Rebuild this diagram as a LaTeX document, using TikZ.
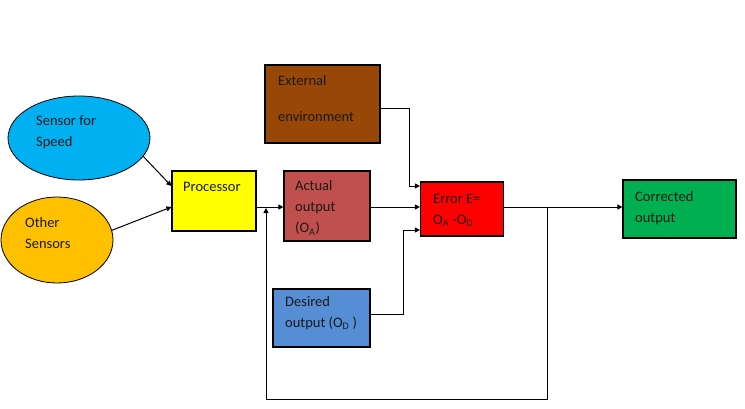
\documentclass[tikz,border=0pt]{standalone}
\usepackage{fontspec}
\setmainfont{Carlito}
\usetikzlibrary{arrows.meta,shapes.geometric}
\definecolor{cspeed}{HTML}{00B0F0}
\definecolor{cother}{HTML}{FFC000}
\definecolor{cproc}{HTML}{FFFF00}
\definecolor{cact}{HTML}{C0504D}
\definecolor{cerr}{HTML}{FF0000}
\definecolor{cext}{HTML}{974806}
\definecolor{cdes}{HTML}{558ED5}
\definecolor{ccor}{HTML}{00B050}
\definecolor{ctext}{HTML}{1A1A1A}
\begin{document}
\begin{tikzpicture}[x=1pt,y=-1pt,
  box/.style={draw=black, line width=1.2pt, rectangle, inner sep=0pt},
  oval/.style={draw=black, line width=0.8pt, ellipse, inner sep=0pt},
  txt/.style={anchor=west, inner sep=0pt, align=left, text=ctext, font=\fontsize{14.5}{21}\selectfont},
  conn/.style={draw=black, line width=1pt},
  arr/.style={conn, -{Triangle[length=5pt,width=5pt]}}]
\useasboundingbox (0,0) rectangle (745,408);
% shapes
\node[oval, fill=cspeed, minimum width=142pt, minimum height=84pt] (speed) at (79,138) {};
\node[oval, fill=cother, minimum width=112pt, minimum height=86pt] (other) at (57,240) {};
\node[box, fill=cproc, minimum width=84pt, minimum height=60pt] (proc) at (214,201) {};
\node[box, fill=cact, minimum width=86pt, minimum height=70pt] (act) at (327,206) {};
\node[box, fill=cerr, minimum width=83pt, minimum height=54pt] (err) at (462,209) {};
\node[box, fill=cext, minimum width=115pt, minimum height=78pt] (ext) at (322.5,104) {};
\node[box, fill=cdes, minimum width=97pt, minimum height=58pt] (des) at (321.5,318) {};
\node[box, fill=ccor, minimum width=113pt, minimum height=58pt] (cor) at (679.5,209) {};
% texts
\node[txt] (tspeed) at (36,132) {Sensor for\\Speed};
\node[txt] (tother) at (25,233) {Other\\Sensors};
\node[txt] (tproc) at (183,187) {Processor};
\node[txt] (tact) at (295,208) {Actual\\output\\(O\textsubscript{A})};
\node[txt] (terr) at (433,210) {Error E=\\O\textsubscript{A} -O\textsubscript{D}};
\node[txt] (text) at (278,99) {External\\[15pt]environment};
\node[txt] (tdes) at (285,313) {Desired\\output (O\textsubscript{D} )};
\node[txt] (tcor) at (635,208) {Corrected\\output};
% coordinates
\coordinate (mainy) at (0,207);
\coordinate (fbtop) at (547,207);
\coordinate (fbcorner) at (547,399);
\coordinate (fbleft) at (266,399);
\coordinate (fbjoin) at (266,208);
\coordinate (extbend) at (409,186);
\coordinate (desbend) at (403,230);
% connectors
\draw[arr] (speed.-16.5) -- ([yshift=15pt]proc.west);
\draw[arr] (other.10) -- ([yshift=-6pt]proc.west);
\draw[arr] (proc.east |- mainy) -- (act.west |- mainy);
\draw[arr] (act.east |- mainy) -- (err.west |- mainy);
\draw[arr] (err.east |- mainy) -- (cor.west |- mainy);
\draw[arr] (fbtop) -- (fbcorner) -- (fbleft) -- (fbjoin);
\draw[arr] ([yshift=-4pt]ext.east) -| (extbend) -- (err.west |- extbend);
\draw[arr] ([yshift=4pt]des.east) -| (desbend) -- (err.west |- desbend);
\end{tikzpicture}
\end{document}
